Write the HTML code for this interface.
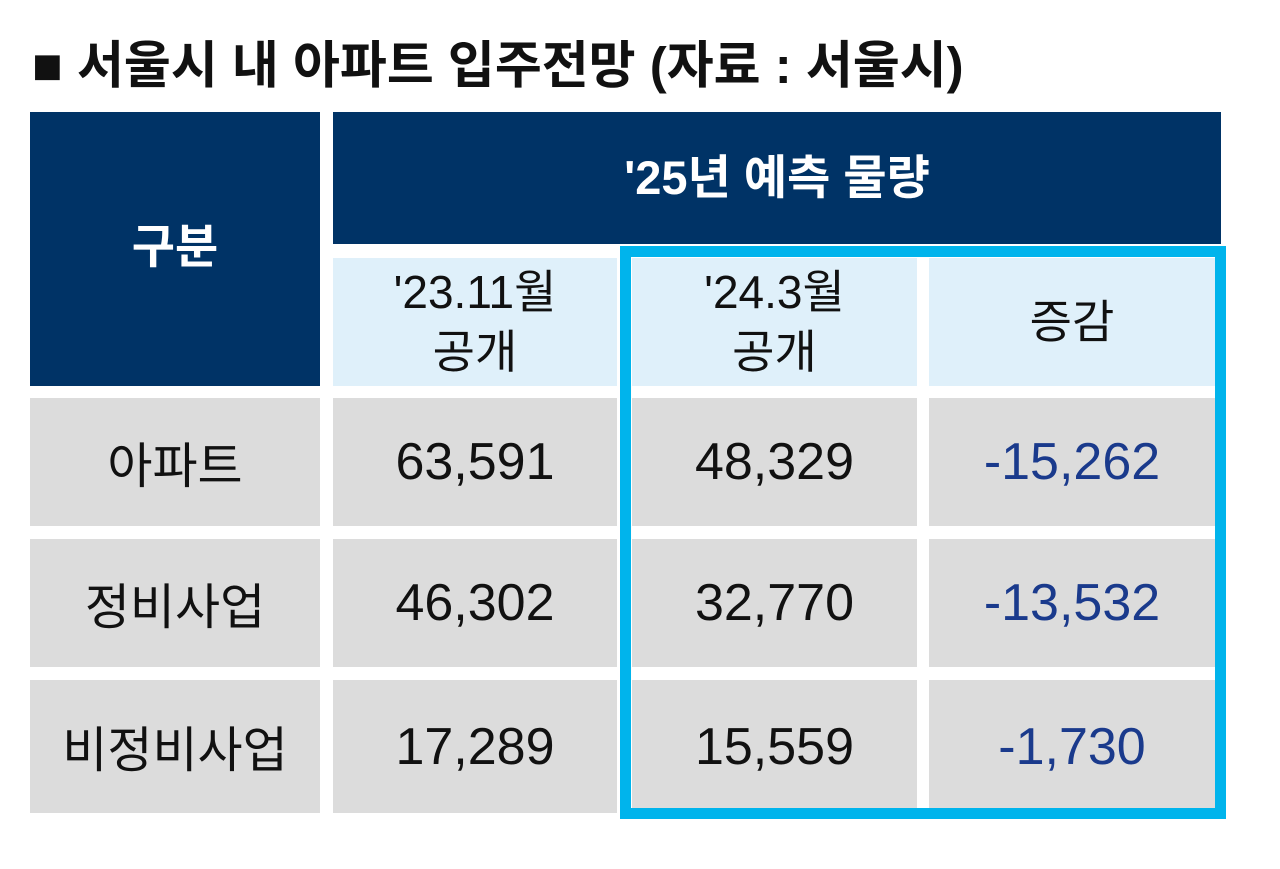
<!DOCTYPE html>
<html><head><meta charset="utf-8"><style>
body{margin:0;width:1280px;height:869px;background:#fff;position:relative;overflow:hidden;font-family:"Liberation Sans","Noto Sans CJK KR",sans-serif}
.c{position:absolute;display:flex;align-items:center;justify-content:center;text-align:center;white-space:nowrap}
.nv{background:#003366;color:#fff;font-size:47px;font-weight:bold}
.lb{background:#dff0fa;color:#111;font-size:46px;line-height:60px}
.gr{background:#dcdcdc;color:#111;font-size:52px}
.lab{font-size:49px}
.neg{color:#1a3a8c}
</style></head><body>
<div class="c" style="left:32px;top:28px;height:66px;font-size:51px;font-weight:bold;color:#111;justify-content:flex-start">■ 서울시 내 아파트 입주전망 (자료 : 서울시)</div>
<div class="c nv" style="left:30px;top:112px;width:290px;height:274px;padding-bottom:14px;box-sizing:border-box">구분</div>
<div class="c nv" style="left:333px;top:112px;width:888px;height:132px;padding-bottom:10px;box-sizing:border-box">'25년 예측 물량</div>
<div class="c lb" style="left:333px;top:258px;width:284px;height:128px">'23.11월<br>공개</div>
<div class="c lb" style="left:632px;top:258px;width:285px;height:128px">'24.3월<br>공개</div>
<div class="c lb" style="left:929px;top:258px;width:286px;height:128px">증감</div>

<div class="c gr lab" style="left:30px;top:398px;width:290px;height:128px">아파트</div>
<div class="c gr" style="left:333px;top:398px;width:284px;height:128px">63,591</div>
<div class="c gr" style="left:632px;top:398px;width:285px;height:128px">48,329</div>
<div class="c gr neg" style="left:929px;top:398px;width:286px;height:128px">-15,262</div>

<div class="c gr lab" style="left:30px;top:539px;width:290px;height:128px">정비사업</div>
<div class="c gr" style="left:333px;top:539px;width:284px;height:128px">46,302</div>
<div class="c gr" style="left:632px;top:539px;width:285px;height:128px">32,770</div>
<div class="c gr neg" style="left:929px;top:539px;width:286px;height:128px">-13,532</div>

<div class="c gr lab" style="left:30px;top:680px;width:290px;height:133px">비정비사업</div>
<div class="c gr" style="left:333px;top:680px;width:284px;height:133px">17,289</div>
<div class="c gr" style="left:632px;top:680px;width:285px;height:133px">15,559</div>
<div class="c gr neg" style="left:929px;top:680px;width:286px;height:133px">-1,730</div>

<div style="position:absolute;left:620px;top:246px;width:584px;height:551px;border:11px solid #00b4ec"></div>
</body></html>
